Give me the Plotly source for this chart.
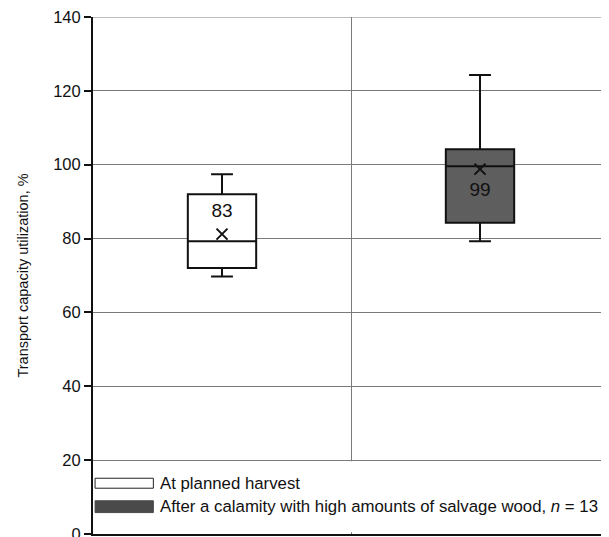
import plotly.graph_objects as go

# ---- data ----
groups = ["At planned harvest", "After a calamity with high amounts of salvage wood"]
x_pos = [0, 1]
q1 = [72, 84.3]
median = [79.3, 99.6]
q3 = [92, 104.2]
lower = [69.7, 79.3]
upper = [97.4, 124.3]
mean = [81.2, 98.8]
mean_labels = ["83", "99"]
label_y = [87.2, 92.8]
fills = ["white", "#5e5e5e"]
y_ticks = [0, 20, 40, 60, 80, 100, 120, 140]

FONT = "Liberation Sans, Arial, sans-serif"
GRID = "#7a7a7a"

fig = go.Figure()
for i in range(2):
    fig.add_trace(go.Box(
        x=[x_pos[i]], q1=[q1[i]], median=[median[i]], q3=[q3[i]],
        lowerfence=[lower[i]], upperfence=[upper[i]],
        width=0.265, whiskerwidth=0.32,
        fillcolor=fills[i], line=dict(color="#111111", width=2),
        boxpoints=False, showlegend=False, hoverinfo="skip",
    ))

fig.add_trace(go.Scatter(
    x=x_pos, y=mean, mode="markers",
    marker=dict(symbol="x-thin-open", size=11, color="#111111",
                line=dict(color="#111111", width=2)),
    showlegend=False, hoverinfo="skip",
))

fig.add_trace(go.Scatter(
    x=x_pos, y=label_y, mode="text", text=mean_labels,
    textfont=dict(family=FONT, size=19, color="#111111"),
    showlegend=False, hoverinfo="skip",
))

shapes = [
    # top gridline at the range edge
    dict(type="line", xref="paper", yref="y", x0=0, x1=1, y0=y_ticks[-1], y1=y_ticks[-1],
         line=dict(color=GRID, width=1), layer="below"),
    # white legend background covering gridlines
    dict(type="rect", xref="paper", yref="y", x0=0.004, x1=1, y0=0.5, y1=19.7,
         fillcolor="white", line=dict(width=0), layer="above"),
    # legend swatches
    dict(type="rect", xref="paper", yref="y", x0=0.004, x1=0.117, y0=12.4, y1=15.1,
         fillcolor="white", line=dict(color="#222222", width=1), layer="above"),
    dict(type="rect", xref="paper", yref="y", x0=0.004, x1=0.117, y0=5.8, y1=9.0,
         fillcolor="#4a4a4a", line=dict(color="#4a4a4a", width=1), layer="above"),
]

annotations = [
    dict(xref="paper", yref="y", x=0.126, y=13.8, xanchor="left", yanchor="middle",
         text="At planned harvest", showarrow=False,
         font=dict(family=FONT, size=16.8, color="#111111")),
    dict(xref="paper", yref="y", x=0.126, y=7.4, xanchor="left", yanchor="middle",
         text="After a calamity with high amounts of salvage wood, <i>n</i> = 13", showarrow=False,
         font=dict(family=FONT, size=16.8, color="#111111")),
]

fig.update_layout(
    width=609, height=537,
    margin=dict(l=85, r=8, t=9, b=11, autoexpand=False),
    paper_bgcolor="white", plot_bgcolor="white",
    boxmode="overlay",
    shapes=shapes, annotations=annotations,
    xaxis=dict(range=[-0.5, 1.5], tickvals=[0.5], showticklabels=False, ticks="",
               showgrid=True, gridcolor=GRID, gridwidth=1, zeroline=False,
               showline=True, linecolor="#111111", linewidth=2, automargin=False),
    yaxis=dict(range=[0, 140], tickvals=y_ticks, ticks="outside", ticklen=7,
               tickcolor="#111111", tickwidth=1.5, ticklabeloverflow="allow",
               showgrid=True, gridcolor=GRID, gridwidth=1, zeroline=False,
               showline=True, linecolor="#111111", linewidth=2, automargin=False,
               tickfont=dict(family=FONT, size=16.5, color="#111111"),
               title=dict(text="Transport capacity utilization, %", standoff=21,
                          font=dict(family=FONT, size=14.5, color="#111111"))),
    font=dict(family=FONT),
)

fig.write_html("out.html")
